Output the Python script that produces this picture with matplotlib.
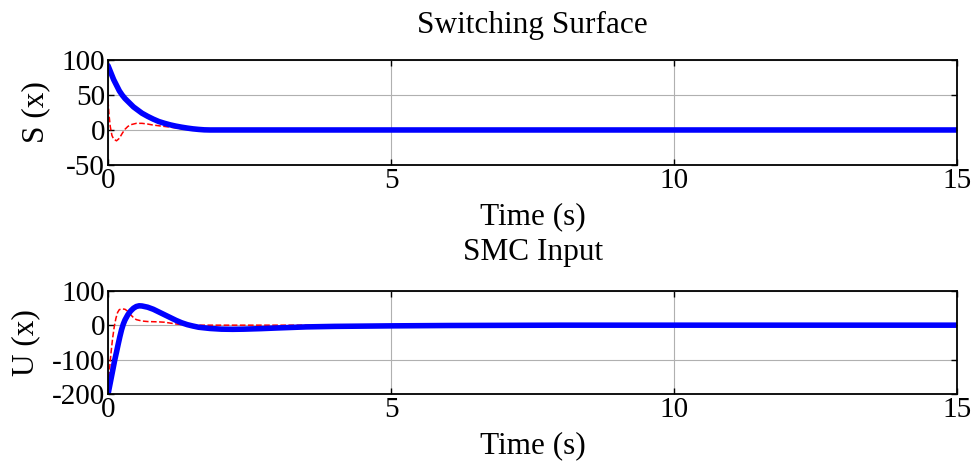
import matplotlib
matplotlib.use("Agg")
import matplotlib.pyplot as plt

# --- data (time in s) ---
t_s_blue = [0, 0.025, 0.05, 0.075, 0.1, 0.125, 0.15, 0.175, 0.2, 0.25, 0.3, 0.35,
            0.4, 0.45, 0.5, 0.6, 0.7, 0.8, 0.9, 1.0, 1.1, 1.2, 1.3, 1.4, 1.5,
            1.6, 1.7, 1.8, 15]
s_blue = [92, 87, 82, 77, 72, 68, 64, 60, 56, 50, 45, 41,
          37, 33, 30, 24, 19.5, 15.5, 12, 9.5, 7.3, 5.5, 4, 2.7, 1.6,
          0.8, 0.2, 0, 0]

t_s_red = [0, 0.02, 0.04, 0.07, 0.1, 0.15, 0.2, 0.25, 0.3, 0.35, 0.4, 0.5, 0.6,
           0.7, 0.8, 0.9, 1.0, 1.1, 1.2, 1.3, 1.4, 1.5, 1.6, 15]
s_red = [42, 20, 5, -8, -13, -15.5, -12, -5, 1, 5, 7.5, 9.5, 9.5,
         8.5, 7, 6, 5, 4, 3, 1.8, 0.8, 0.2, 0, 0]

t_u_blue = [0, 0.03, 0.06, 0.09, 0.12, 0.15, 0.18, 0.21, 0.24, 0.27, 0.3, 0.35,
            0.4, 0.45, 0.5, 0.55, 0.6, 0.7, 0.8, 0.9, 1.0, 1.1, 1.2, 1.3, 1.4,
            1.5, 1.6, 1.8, 2.0, 2.2, 2.4, 2.7, 3.0, 3.5, 4.0, 5, 6, 8, 15]
u_blue = [-200, -175, -150, -125, -100, -78, -55, -33, -13, 3, 15, 30,
          41, 49, 54, 56, 55.5, 52, 46, 38, 30, 22, 14, 7, 1.5,
          -2.5, -6, -9.5, -11.5, -12, -11.5, -10, -8, -5, -3.5, -2, -1, 0, 0]

t_u_red = [0, 0.02, 0.05, 0.08, 0.11, 0.14, 0.17, 0.2, 0.25, 0.3, 0.35, 0.4,
           0.45, 0.5, 0.6, 0.7, 0.8, 0.9, 1.0, 1.1, 1.2, 1.3, 1.4, 1.6, 15]
u_red = [-175, -140, -85, -40, -5, 20, 37, 45, 47, 46, 40, 30,
         22, 16, 12, 10.5, 10, 9.5, 8.5, 6, 3.5, 1.5, 0.5, 0, 0]

x_ticks = [0, 5, 10, 15]
s_ticks = [-50, 0, 50, 100]
u_ticks = [-200, -100, 0, 100]

plt.rcParams["font.family"] = ["Liberation Serif", "DejaVu Serif"]
plt.rcParams["font.size"] = 22.5
plt.rcParams["axes.unicode_minus"] = False

fig = plt.figure(figsize=(9.8, 4.62), dpi=100)
ax1 = fig.add_axes([0.1102, 0.643, 0.8668, 0.227])
ax2 = fig.add_axes([0.1102, 0.1465, 0.8668, 0.2245])


def style_axes(ax, yticks, ylim):
    ax.set_xlim(0, 15)
    ax.set_ylim(*ylim)
    ax.set_xticks(x_ticks)
    ax.set_yticks(yticks)
    ax.grid(True, color="#b0b0b0", linewidth=0.8)
    ax.set_axisbelow(True)
    ax.tick_params(direction="in", length=4, width=1, top=True, right=True,
                   pad=2, labelsize=21)
    for sp in ax.spines.values():
        sp.set_linewidth(1.3)


ax1.plot(t_s_red, s_red, color="red", linestyle="--", linewidth=1.1)
ax1.plot(t_s_blue, s_blue, color="blue", linewidth=4, solid_capstyle="round",
         solid_joinstyle="round")
style_axes(ax1, s_ticks, (-50, 100))
ax1.set_ylabel("S (x)")
ax1.yaxis.set_label_coords(-0.068, 0.5)
ax1.set_xlabel("Time (s)")
ax1.xaxis.set_label_coords(0.5, -0.49)
ax1.xaxis.label.set_va("center")
ax1.text(0.5, 1.329, "Switching Surface", transform=ax1.transAxes,
         ha="center", va="center")

ax2.plot(t_u_red, u_red, color="red", linestyle="--", linewidth=1.1)
ax2.plot(t_u_blue, u_blue, color="blue", linewidth=4, solid_capstyle="round",
         solid_joinstyle="round")
style_axes(ax2, u_ticks, (-200, 100))
ax2.set_ylabel("U (x)")
ax2.yaxis.set_label_coords(-0.080, 0.5)
ax2.set_xlabel("Time (s)")
ax2.xaxis.set_label_coords(0.5, -0.50)
ax2.xaxis.label.set_va("center")
ax2.text(0.5, 1.364, "SMC Input", transform=ax2.transAxes,
         ha="center", va="center")

fig.savefig("out.png", dpi=100)
